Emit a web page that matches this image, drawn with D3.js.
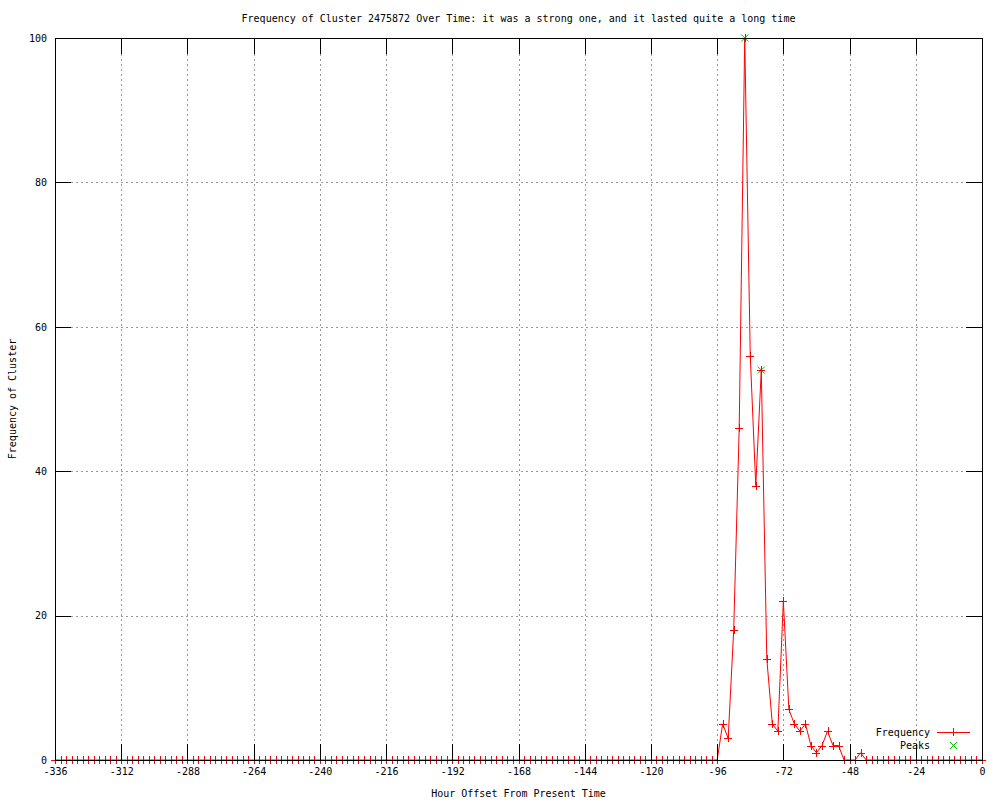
<!DOCTYPE html>
<html>
<head>
<meta charset="utf-8">
<script src="https://cdn.jsdelivr.net/npm/d3@7"></script>
<style>
  body { margin: 0; background: #fff; }
  text { font-family: "DejaVu Sans Mono", monospace; font-size: 10px; fill: #000; }
</style>
</head>
<body>
<div id="chart"></div>
<script>
const hours = d3.range(-336, 1, 2);
const frequency = [
  0, 0, 0, 0, 0, 0, 0, 0, 0, 0, 0, 0,
  0, 0, 0, 0, 0, 0, 0, 0, 0, 0, 0, 0,
  0, 0, 0, 0, 0, 0, 0, 0, 0, 0, 0, 0,
  0, 0, 0, 0, 0, 0, 0, 0, 0, 0, 0, 0,
  0, 0, 0, 0, 0, 0, 0, 0, 0, 0, 0, 0,
  0, 0, 0, 0, 0, 0, 0, 0, 0, 0, 0, 0,
  0, 0, 0, 0, 0, 0, 0, 0, 0, 0, 0, 0,
  0, 0, 0, 0, 0, 0, 0, 0, 0, 0, 0, 0,
  0, 0, 0, 0, 0, 0, 0, 0, 0, 0, 0, 0,
  0, 0, 0, 0, 0, 0, 0, 0, 0, 0, 0, 0,
  0, 5, 3, 18, 46, 100, 56, 38, 54, 14, 5, 4,
  22, 7, 5, 4, 5, 2, 1, 2, 4, 2, 2, 0,
  0, 0, 1, 0, 0, 0, 0, 0, 0, 0, 0, 0,
  0, 0, 0, 0, 0, 0, 0, 0, 0, 0, 0, 0,
  0
];
const peakHours = [-86, -80];
const peakValues = [100, 54];
const xTicks = [-336, -312, -288, -264, -240, -216, -192, -168, -144, -120, -96, -72, -48, -24, 0];
const yTicks = [0, 20, 40, 60, 80, 100];

const title = "Frequency of Cluster 2475872 Over Time: it was a strong one, and it lasted quite a long time";

const drawChart = () => {
  const chartSize = { width: 1000, height: 800 };
  const margin = { left: 55, right: 18, top: 38, bottom: 40 };
  const width = chartSize.width - margin.left - margin.right;
  const height = chartSize.height - margin.top - margin.bottom;
  const tick = 16;

  const x = d3.scaleLinear().domain([-336, 0]).range([0, width]);
  const y = d3.scaleLinear().domain([0, 100]).range([height, 0]);

  const svg = d3.select("#chart")
    .append("svg")
    .attr("width", chartSize.width)
    .attr("height", chartSize.height);

  svg.append("text")
    .attr("x", margin.left + width / 2)
    .attr("y", 22)
    .attr("text-anchor", "middle")
    .text(title);

  const g = svg.append("g")
    .attr("transform", `translate(${margin.left},${margin.top})`);

  // dotted grid
  const grid = g.append("g")
    .attr("stroke", "#999")
    .attr("stroke-dasharray", "2,3")
    .attr("shape-rendering", "crispEdges");
  grid.selectAll(".vgrid")
    .data(xTicks.filter(d => d > -336 && d < 0))
    .enter().append("line")
    .attr("x1", d => Math.round(x(d)) + 0.5)
    .attr("x2", d => Math.round(x(d)) + 0.5)
    .attr("y1", tick)
    .attr("y2", height - tick);
  grid.selectAll(".hgrid")
    .data(yTicks.filter(d => d > 0 && d < 100))
    .enter().append("line")
    .attr("x1", tick)
    .attr("x2", width - tick)
    .attr("y1", d => Math.round(y(d)) + 0.5)
    .attr("y2", d => Math.round(y(d)) + 0.5);

  // frequency line
  const pts = hours.map((h, i) => [h, frequency[i]]);
  const line = d3.line().x(d => x(d[0])).y(d => y(d[1]));
  g.append("path")
    .datum(pts)
    .attr("fill", "none")
    .attr("stroke", "#ff0000")
    .attr("stroke-width", 1)
    .attr("d", line);

  // peaks (green x)
  const peaks = peakHours.map((h, i) => [h, peakValues[i]]);
  const cross = (sel, s) => sel.append("path")
    .attr("d", `M${-s},${-s}L${s},${s}M${-s},${s}L${s},${-s}`);
  g.selectAll(".peak")
    .data(peaks)
    .enter().append("g")
    .attr("transform", d => `translate(${x(d[0])},${y(d[1])})`)
    .attr("stroke", "#00c000")
    .call(sel => cross(sel, 3.5));

  // + markers
  const plus = (sel, s) => sel.append("path")
    .attr("d", `M${-s},0.5H${s}M0.5,${-s}V${s}`);
  g.selectAll(".mark")
    .data(pts)
    .enter().append("g")
    .attr("transform", d => `translate(${Math.round(x(d[0]))},${Math.round(y(d[1]))})`)
    .attr("stroke", "#ff0000")
    .attr("shape-rendering", "crispEdges")
    .call(sel => plus(sel, 4));

  // axes (ticks inward, on all four sides)
  const fmt = d => String(d);
  g.append("g")
    .attr("transform", `translate(0,${height})`)
    .call(d3.axisBottom(x).tickValues(xTicks).tickSize(-tick).tickPadding(8).tickFormat(fmt));
  g.append("g")
    .call(d3.axisTop(x).tickValues(xTicks).tickSize(-tick).tickFormat(""));
  g.append("g")
    .call(d3.axisLeft(y).tickValues(yTicks).tickSize(-tick).tickPadding(8).tickFormat(fmt));
  g.append("g")
    .attr("transform", `translate(${width},0)`)
    .call(d3.axisRight(y).tickValues(yTicks).tickSize(-tick).tickFormat(""));
  g.selectAll(".domain").remove();
  g.selectAll(".tick line").attr("stroke", "#000").attr("shape-rendering", "crispEdges");
  g.selectAll(".tick text")
    .style("font-family", '"DejaVu Sans Mono", monospace')
    .style("font-size", "10px");

  // border
  g.append("rect")
    .attr("x", 0.5).attr("y", 0.5)
    .attr("width", width).attr("height", height)
    .attr("fill", "none")
    .attr("stroke", "#000")
    .attr("shape-rendering", "crispEdges");

  // axis labels
  svg.append("text")
    .attr("x", margin.left + width / 2)
    .attr("y", 797)
    .attr("text-anchor", "middle")
    .text("Hour Offset From Present Time");
  svg.append("text")
    .attr("transform", `translate(16,${margin.top + height / 2}) rotate(-90)`)
    .attr("text-anchor", "middle")
    .text("Frequency of Cluster");

  // legend
  const leg = svg.append("g");
  leg.append("text").attr("x", 930).attr("y", 736).attr("text-anchor", "end").text("Frequency");
  leg.append("line")
    .attr("x1", 937).attr("x2", 970).attr("y1", 732.5).attr("y2", 732.5)
    .attr("stroke", "#ff0000");
  leg.append("g").attr("transform", "translate(953,732)").attr("stroke", "#ff0000").call(sel => plus(sel, 4));
  leg.append("text").attr("x", 930).attr("y", 749).attr("text-anchor", "end").text("Peaks");
  leg.append("g").attr("transform", "translate(953.5,745.5)").attr("stroke", "#00c000").call(sel => cross(sel, 3.5));
};

window.onload = drawChart;
</script>
</body>
</html>
